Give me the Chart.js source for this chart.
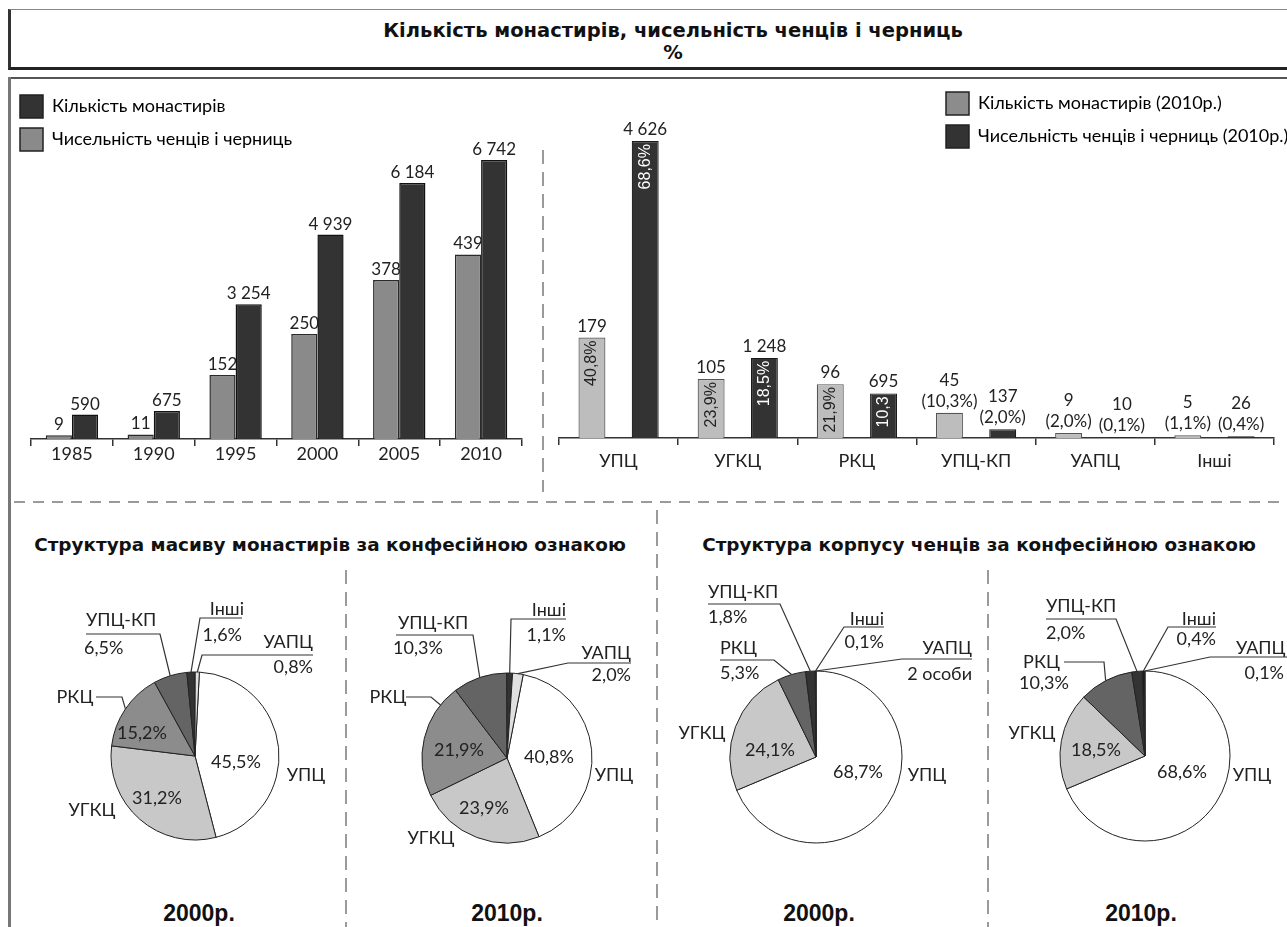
<!DOCTYPE html>
<html>
<head>
<meta charset="utf-8">
<script src="https://cdn.jsdelivr.net/npm/chart.js"></script>
<style>
  html, body { margin: 0; padding: 0; background: #fff; }
  #page { position: relative; width: 1287px; height: 927px; overflow: hidden; font-family: Lato, sans-serif; color: #222; }
  .abs { position: absolute; }
  canvas { position: absolute; }
  #titleBox { left: 8px; top: 9px; width: 1320px; height: 61px; box-sizing: border-box;
    border-top: 1px solid #888; border-left: 3px solid #333; border-bottom: 3px solid #222; }
  #title { left: 0; top: 20px; width: 1346px; text-align: center; font: bold 19.5px "DejaVu Sans", sans-serif; line-height: 22px; color: #111; }
  #panelTop { left: 8px; top: 77px; width: 1290px; height: 2px; background: #555; }
  #panelLeft { left: 8px; top: 77px; width: 3px; height: 860px; background: #777; }
  .vdash { width: 1.5px; background: repeating-linear-gradient(to bottom, #9a9a9a 0 14px, transparent 14px 22px); }
  .hdash { height: 1.5px; background: repeating-linear-gradient(to right, #9a9a9a 0 11px, transparent 11px 19px); }
  .sub { top: 534px; text-align: center; font: bold 18.4px "DejaVu Sans", sans-serif; line-height: 22px; color: #111; }
  .yr { top: 900px; width: 200px; text-align: center; font: bold 23px "Liberation Sans", Arial, sans-serif; line-height: 26px; color: #111; }
</style>
</head>
<body>
<div id="page">
  <div id="titleBox" class="abs"></div>
  <div id="title" class="abs">Кількість монастирів, чисельність ченців і черниць<br>%</div>
  <div id="panelTop" class="abs"></div>
  <div id="panelLeft" class="abs"></div>

  <div class="abs vdash" style="left:542px; top:150px; height:342px;"></div>
  <div class="abs hdash" style="left:14px; top:501px; width:1273px;"></div>
  <div class="abs vdash" style="left:656px; top:510px; height:420px;"></div>
  <div class="abs vdash" style="left:345px; top:570px; height:360px;"></div>
  <div class="abs vdash" style="left:987px; top:570px; height:360px;"></div>

  <div class="abs sub" style="left:0; width:660px;">Структура масиву монастирів за конфесійною ознакою</div>
  <div class="abs sub" style="left:700px; width:558px;">Структура корпусу ченців за конфесійною ознакою</div>

  <div class="abs yr" style="left:99px;">2000р.</div>
  <div class="abs yr" style="left:407px;">2010р.</div>
  <div class="abs yr" style="left:719px;">2000р.</div>
  <div class="abs yr" style="left:1041px;">2010р.</div>

  <canvas id="yearsChart" width="540" height="420" style="left:0; top:80px;"></canvas>
  <canvas id="churchChart" width="747" height="420" style="left:540px; top:80px;"></canvas>
  <canvas id="pieMon2000" width="330" height="320" style="left:14px; top:575px;"></canvas>
  <canvas id="pieMon2010" width="310" height="320" style="left:346px; top:575px;"></canvas>
  <canvas id="pieMonk2000" width="328" height="320" style="left:658px; top:575px;"></canvas>
  <canvas id="pieMonk2010" width="299" height="320" style="left:988px; top:575px;"></canvas>
</div>

<script>
// --- data ---
const years = ['1985', '1990', '1995', '2000', '2005', '2010'];
const monasteriesByYear = [9, 11, 152, 250, 378, 439];
const monksByYear = [590, 675, 3254, 4939, 6184, 6742];

const churches = ['УПЦ', 'УГКЦ', 'РКЦ', 'УПЦ-КП', 'УАПЦ', 'Інші'];
const monasteries2010 = [179, 105, 96, 45, 9, 5];
const monks2010 = [4626, 1248, 695, 137, 10, 26];
const monasteries2010Pct = ['40,8%', '23,9%', '21,9%', '10,3%', '2,0%', '1,1%'];
const monks2010Pct = ['68,6%', '18,5%', '10,3', '2,0%', '0,1%', '0,4%'];

const pieCats = ['УПЦ', 'УГКЦ', 'РКЦ', 'УПЦ-КП', 'Інші', 'УАПЦ'];
const monasteries2000Share = [45.5, 31.2, 15.2, 6.5, 1.6, 0.8];
const monasteries2010Share = [40.8, 23.9, 21.9, 10.3, 1.1, 2.0];
const monks2000Share = [68.7, 24.1, 5.3, 1.8, 0.1, 0.04]; // УАПЦ: 2 особи
const monks2010Share = [68.6, 18.5, 10.3, 2.0, 0.4, 0.1];
const monks2000Notes = [null, null, null, null, null, '2 особи'];

const fmt = v => String(v).replace(/\B(?=(\d{3})+(?!\d))/g, ' ');
const pct = v => v.toFixed(1).replace('.', ',') + '%';

// --- plugins ---
const legendSpot = {
  id: 'legendSpot',
  afterLayout(chart, args, opts) {
    const lg = chart.legend;
    const pad = lg.options.labels.padding;
    lg.left = opts.x - pad;
    lg.top = opts.y - pad;
    lg.right = lg.left + lg.width;
    lg.bottom = lg.top + 200;
  }
};

const barLabels = {
  id: 'barLabels',
  afterDatasetsDraw(chart, args, opts) {
    const ctx = chart.ctx;
    ctx.save();
    chart.data.datasets.forEach((ds, i) => {
      chart.getDatasetMeta(i).data.forEach((bar, j) => {
        const value = fmt(ds.data[j]);
        const share = ds.pct ? ds.pct[j] : null;
        ctx.font = '17px Lato';
        ctx.fillStyle = '#222';
        ctx.textAlign = 'center';
        ctx.textBaseline = 'alphabetic';
        if (!share) {
          ctx.fillText(value, bar.x, bar.y - opts.gap);
        } else if (bar.base - bar.y > 35) {
          ctx.fillText(value, bar.x, bar.y - opts.gap);
          ctx.save();
          ctx.translate(bar.x, bar.y + 3);
          ctx.rotate(-Math.PI / 2);
          ctx.font = '16px "Liberation Sans"';
          ctx.fillStyle = ds.pctColor;
          ctx.textAlign = 'right';
          ctx.textBaseline = 'middle';
          ctx.fillText(share, 0, 0);
          ctx.restore();
        } else {
          ctx.fillText('(' + share + ')', bar.x, bar.y - opts.gap);
          ctx.fillText(value, bar.x, bar.y - opts.gap - 21);
        }
      });
    });
    ctx.restore();
  }
};

// labels and leader lines for one pie; kept in a closure
function pieLabels(texts, layout) {
  return {
    id: 'pieLabels',
    afterDatasetsDraw(chart) {
      const ctx = chart.ctx;
      const meta = chart.getDatasetMeta(0);
      const names = chart.data.labels;
      ctx.save();
      ctx.font = '18px Lato';
      ctx.fillStyle = '#222';
      ctx.strokeStyle = '#333';
      ctx.lineWidth = 1.2;
      ctx.textBaseline = 'middle';
      meta.data.forEach((arc, i) => {
        const spec = layout[i];
        const cx = arc.x, cy = arc.y;
        const put = (t, p) => { ctx.textAlign = p[2] || 'center'; ctx.fillText(t, cx + p[0], cy + p[1]); };
        if (spec.inner) put(texts[i], spec.inner);
        if (spec.name) put(names[i], spec.name);
        if (spec.value) put(texts[i], spec.value);
        if (spec.line) {
          const f = spec.at === undefined ? 0.5 : spec.at;
          const a = arc.startAngle + (arc.endAngle - arc.startAngle) * f;
          const r = arc.outerRadius;
          ctx.beginPath();
          ctx.moveTo(cx + spec.line[0][0], cy + spec.line[0][1]);
          ctx.lineTo(cx + spec.line[1][0], cy + spec.line[1][1]);
          ctx.lineTo(cx + r * Math.cos(a), cy + r * Math.sin(a));
          ctx.stroke();
        }
      });
      ctx.restore();
    }
  };
}

const xAxis = (pad) => ({
  grid: { offset: true, drawOnChartArea: false, tickLength: 7, color: '#333', lineWidth: 1.5 },
  border: { color: '#333', width: 1.5 },
  ticks: { font: { family: 'Lato', size: 18 }, color: '#222', padding: pad },
  afterFit: axis => { axis.height = 40; }
});

const legendOpts = (swatches) => ({
  position: 'chartArea',
  align: 'start',
  labels: {
    font: { family: 'Lato', size: 18 }, color: '#222',
    boxWidth: 23, boxHeight: 23, padding: 10,
    generateLabels: chart => chart.data.datasets.map((ds, i) => ({
      text: ds.label, fillStyle: swatches[i], strokeStyle: '#222', lineWidth: 1.5, hidden: false, datasetIndex: i
    }))
  }
});

// --- bar chart: by years ---
new Chart(document.getElementById('yearsChart'), {
  type: 'bar',
  data: {
    labels: years,
    datasets: [
      { label: 'Кількість монастирів', data: monasteriesByYear, yAxisID: 'yMon',
        backgroundColor: '#8a8a8a', borderColor: '#2a2a2a', borderWidth: 1.5 },
      { label: 'Чисельність ченців і черниць', data: monksByYear, yAxisID: 'yMonk',
        backgroundColor: '#333333', borderColor: '#111111', borderWidth: 1.5 }
    ]
  },
  options: {
    responsive: false, animation: false, devicePixelRatio: 1,
    layout: { padding: { left: 31, right: 18, top: 66, bottom: 21 } },
    datasets: { bar: { categoryPercentage: 0.64, barPercentage: 1 } },
    scales: {
      x: xAxis(-3),
      yMonk: { display: false, min: 0, max: 7080 },
      yMon: { display: false, min: 0, max: 697 }
    },
    plugins: {
      legend: legendOpts(['#333333', '#8a8a8a']),
      tooltip: { enabled: false },
      legendSpot: { x: 20, y: 15 },
      barLabels: { gap: 5 }
    }
  },
  plugins: [legendSpot, barLabels]
});

// --- bar chart: by church, 2010 ---
new Chart(document.getElementById('churchChart'), {
  type: 'bar',
  data: {
    labels: churches,
    datasets: [
      { label: 'Кількість монастирів (2010р.)', data: monasteries2010, pct: monasteries2010Pct, pctColor: '#222',
        yAxisID: 'yMon', backgroundColor: '#bdbdbd', borderColor: '#555', borderWidth: 1.2 },
      { label: 'Чисельність ченців і черниць (2010р.)', data: monks2010, pct: monks2010Pct, pctColor: '#fff',
        yAxisID: 'yMonk', backgroundColor: '#333333', borderColor: '#1a1a1a', borderWidth: 1.2 }
    ]
  },
  options: {
    responsive: false, animation: false, devicePixelRatio: 1,
    layout: { padding: { left: 19, right: 13, top: 37, bottom: 22 } },
    datasets: { bar: { categoryPercentage: 0.894, barPercentage: 0.506 } },
    scales: {
      x: xAxis(5),
      yMonk: { display: false, min: 0, max: 5000 },
      yMon: { display: false, min: 0, max: 572 }
    },
    plugins: {
      legend: legendOpts(['#8c8c8c', '#333333']),
      tooltip: { enabled: false },
      legendSpot: { x: 406, y: 12 },
      barLabels: { gap: 6 }
    }
  },
  plugins: [legendSpot, barLabels]
});

// --- pies ---
const monColors = ['#ffffff', '#c8c8c8', '#8c8c8c', '#646464', '#333333', '#e0e0e0'];
const monkColors = ['#ffffff', '#c8c8c8', '#646464', '#333333', '#1e1e1e', '#d9d9d9'];

function makePie(id, values, notes, colors, spin, spot, layout) {
  const cv = document.getElementById(id);
  const cx = spot.cx - cv.offsetLeft, cy = spot.cy - cv.offsetTop;
  const w = cv.width, h = cv.height;
  const padding = {
    left: Math.max(0, 2 * cx - w), right: Math.max(0, w - 2 * cx),
    top: Math.max(0, 2 * cy - h), bottom: Math.max(0, h - 2 * cy)
  };
  const texts = values.map((v, i) => (notes && notes[i]) || pct(v));
  new Chart(cv, {
    type: 'pie',
    data: {
      labels: pieCats,
      datasets: [{ data: values, backgroundColor: colors, borderColor: '#222', borderWidth: 1, radius: spot.r }]
    },
    options: {
      responsive: false, animation: false, devicePixelRatio: 1,
      rotation: spin,
      layout: { padding },
      plugins: { legend: { display: false }, tooltip: { enabled: false } }
    },
    plugins: [pieLabels(texts, layout)]
  });
}

makePie('pieMon2000', monasteries2000Share, null, monColors, 3, { cx: 195, cy: 756, r: 84 }, [
  { inner: [41, 6], name: [111, 19] },
  { inner: [-38, 42], name: [-103, 54] },
  { inner: [-53, -23], name: [-120, -59], line: [[-99, -59], [-73, -59]] },
  { name: [-109, -136, 'left'], value: [-111, -108, 'left'], line: [[-109, -122], [-35, -122]] },
  { name: [49, -147, 'right'], value: [47, -121, 'right'], line: [[47, -138], [5, -138]] },
  { name: [118, -114, 'right'], value: [118, -89, 'right'], line: [[118, -101], [7, -101]] }
]);

makePie('pieMon2010', monasteries2010Share, null, monColors, 11, { cx: 507, cy: 758, r: 85 }, [
  { inner: [42, -1], name: [107, 17] },
  { inner: [-23, 50], name: [-76, 80] },
  { inner: [-48, -8], name: [-119, -61], line: [[-101, -61], [-76, -61]], at: 0.82 },
  { name: [-109, -135, 'left'], value: [-114, -110, 'left'], line: [[-111, -123], [-34, -123]] },
  { name: [59, -148, 'right'], value: [59, -123, 'right'], line: [[59, -139], [4, -139]] },
  { name: [124, -105, 'right'], value: [124, -83, 'right'], line: [[124, -95], [61, -95]] }
]);

makePie('pieMonk2000', monks2000Share, monks2000Notes, monkColors, 0, { cx: 816, cy: 757, r: 86 }, [
  { inner: [42, 15], name: [111, 18] },
  { inner: [-46, -7], name: [-114, -24] },
  { name: [-96, -109, 'left'], value: [-96, -84, 'left'], line: [[-96, -97], [-42, -97]] },
  { name: [-108, -165, 'left'], value: [-108, -140, 'left'], line: [[-108, -153], [-36, -153]] },
  { name: [68, -138, 'right'], value: [68, -115, 'right'], line: [[68, -130], [28, -130]] },
  { name: [156, -109, 'right'], value: [156, -83, 'right'], line: [[156, -98], [86, -98]] }
]);

makePie('pieMonk2010', monks2010Share, null, monkColors, 0, { cx: 1145, cy: 756, r: 85 }, [
  { inner: [37, 16], name: [107, 19] },
  { inner: [-49, -6], name: [-113, -23] },
  { name: [-85, -94, 'right'], value: [-101, -73], line: [[-81, -94], [-41, -94]] },
  { name: [-99, -150, 'left'], value: [-99, -123, 'left'], line: [[-99, -137], [-29, -137]] },
  { name: [71, -137, 'right'], value: [71, -117, 'right'], line: [[71, -129], [23, -129]] },
  { name: [91, -108, 'left'], value: [139, -83, 'right'], line: [[142, -99], [65, -99]] }
]);
</script>
</body>
</html>
